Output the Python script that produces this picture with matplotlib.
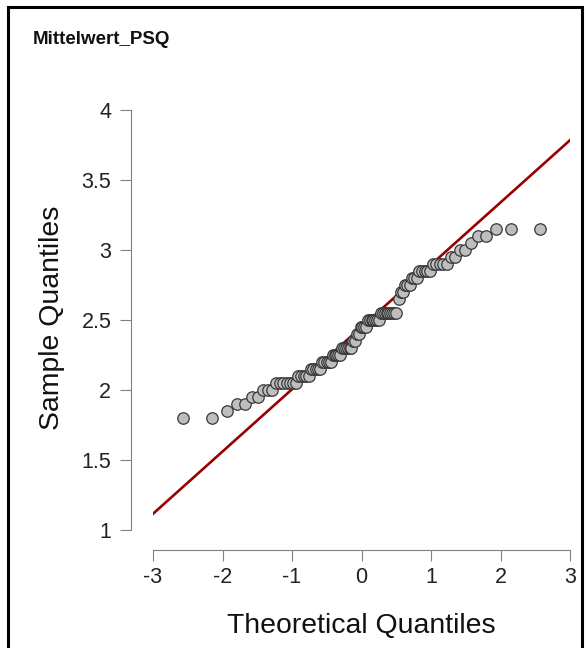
import matplotlib
matplotlib.use("Agg")
import matplotlib.pyplot as plt
from matplotlib.patches import Rectangle
from statistics import NormalDist
import numpy as np

plt.rcParams['font.family'] = ['Liberation Sans', 'DejaVu Sans']

# sorted sample values (Mittelwert_PSQ)
sample_values = ([1.8] * 2 + [1.85] + [1.9] * 2 + [1.95] * 2 + [2.0] * 3 +
                 [2.05] * 7 + [2.1] * 5 + [2.15] * 5 + [2.2] * 5 + [2.25] * 5 +
                 [2.3] * 6 + [2.35] * 2 + [2.4] * 2 + [2.45] * 4 + [2.5] * 7 +
                 [2.55] * 9 + [2.65] + [2.7] * 2 + [2.75] * 3 + [2.8] * 3 +
                 [2.85] * 5 + [2.9] * 5 + [2.95] * 2 + [3.0] * 2 + [3.05] +
                 [3.1] * 2 + [3.15] * 3)
x_ticks = [-3, -2, -1, 0, 1, 2, 3]
y_ticks = [1, 1.5, 2, 2.5, 3, 3.5, 4]
y_tick_labels = ['1', '1.5', '2', '2.5', '3', '3.5', '4']
title = 'Mittelwert_PSQ'

# theoretical quantiles like R's qqnorm (ppoints)
y = np.sort(np.array(sample_values))
n = len(y)
nd = NormalDist()
x = np.array([nd.inv_cdf((i - 0.5) / n) for i in range(1, n + 1)])

# qqline through the quartiles
q1, q3 = np.quantile(y, [0.25, 0.75])
z1, z3 = nd.inv_cdf(0.25), nd.inv_cdf(0.75)
slope = (q3 - q1) / (z3 - z1)
intercept = q1 - slope * z1

W, H = 587, 648
fig = plt.figure(figsize=(W / 100, H / 100), dpi=100)
ax = fig.add_axes([153 / W, 1 - 530 / H, (570 - 153) / W, (530 - 110) / H])

lx = np.array([-3, 3])
ax.plot(lx, intercept + slope * lx, color='#990000', lw=1.9, zorder=2)
ax.scatter(x, y, s=68, facecolor='#bebebe', edgecolor='#383838',
           linewidths=0.9, zorder=3, clip_on=False)

ax.set_xlim(-3, 3)
ax.set_ylim(1, 4)
ax.set_xticks(x_ticks)
ax.set_xticklabels([str(t) for t in x_ticks])
ax.set_yticks(y_ticks)
ax.set_yticklabels(y_tick_labels)

for s in ['top', 'right']:
    ax.spines[s].set_visible(False)
ax.spines['left'].set_position(('outward', 16))
ax.spines['bottom'].set_position(('outward', 14.4))
for s in ['left', 'bottom']:
    ax.spines[s].set_color('#808080')
    ax.spines[s].set_linewidth(0.8)
ax.tick_params(axis='both', length=8, width=0.8, color='#808080',
               labelsize=15.5, labelcolor='#222222')
ax.tick_params(axis='y', pad=6)
ax.tick_params(axis='x', pad=4)
ax.patch.set_alpha(0)

fig.text(361 / W, 1 - 626 / H, 'Theoretical Quantiles', ha='center',
         va='center', fontsize=20.4, color='#111111')
fig.text(52 / W, 1 - 318 / H, 'Sample Quantiles', ha='center', va='center',
         rotation=90, fontsize=20.4, color='#111111')
fig.text(33 / W, 1 - 40 / H, title, ha='left', va='center', fontsize=13.5,
         fontweight='bold', color='#111111')

# frame around the picture (bottom edge is cut off)
fig.patches.append(Rectangle((8 / W, -0.05), (582 - 8) / W, 1.05 - 7 / H,
                             transform=fig.transFigure, fill=False,
                             edgecolor='black', lw=2.2))

fig.savefig('out.png', dpi=100)
